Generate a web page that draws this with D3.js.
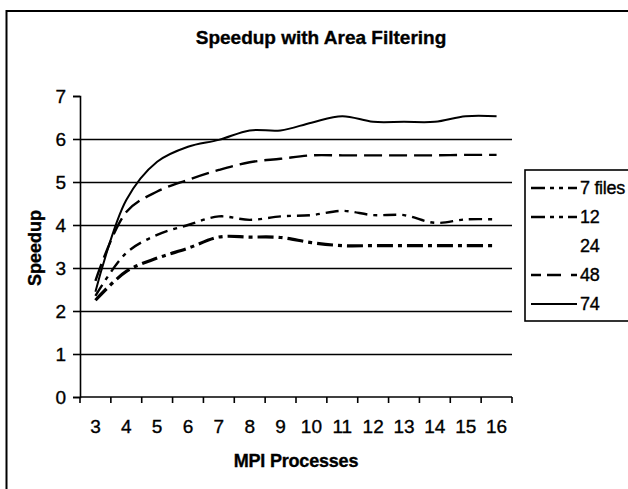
<!DOCTYPE html>
<html>
<head>
<meta charset="utf-8" />
<script src="https://cdn.jsdelivr.net/npm/d3@7"></script>
<title>speedup</title>
<style>
body { margin: 0; background: #fff; }
text { font-family: "Liberation Sans", Arial, sans-serif; fill: #000; stroke: #000; stroke-width: 0.35px; }
</style>
</head>
<body>
<script>
// MPI process counts on the x axis
var procs = [3, 4, 5, 6, 7, 8, 9, 10, 11, 12, 13, 14, 15, 16];
var yTicks = [0, 1, 2, 3, 4, 5, 6, 7];
var legendNames = ["7 files", "12", "24", "48", "74"];

// speedup per series
var files7  = [2.25, 2.92, 3.23, 3.46, 3.72, 3.72, 3.71, 3.59, 3.52, 3.52, 3.52, 3.52, 3.52, 3.52];
var files12 = [2.35, 3.35, 3.77, 4.00, 4.20, 4.12, 4.20, 4.23, 4.33, 4.23, 4.23, 4.05, 4.13, 4.13];
var files48 = [2.70, 4.30, 4.78, 5.05, 5.28, 5.46, 5.54, 5.62, 5.62, 5.62, 5.62, 5.62, 5.63, 5.63];
var files74 = [2.45, 4.58, 5.47, 5.82, 5.98, 6.20, 6.20, 6.38, 6.53, 6.40, 6.40, 6.40, 6.53, 6.53];

var w = 628, h = 489;
var pLeft = 80, pRight = 512, pTop = 96, pBottom = 397;

var svg = d3.select("body").append("svg")
	.attr("width", w)
	.attr("height", h);

// outer chart border
svg.append("rect")
	.attr("x", 6.5).attr("y", 11)
	.attr("width", 700).attr("height", 600)
	.attr("fill", "none")
	.attr("stroke", "#000")
	.attr("stroke-width", 2);

var x = d3.scaleBand().domain(procs).range([pLeft, pRight]);
var y = d3.scaleLinear().domain([0, 7]).range([pBottom, pTop]);

// gridlines 1..6
svg.selectAll(".grid")
	.data(yTicks.filter(function(d) { return d > 0 && d < 7; }))
	.enter().append("line")
	.attr("x1", pLeft).attr("x2", pRight)
	.attr("y1", function(d) { return Math.round(y(d)) + 0.5; })
	.attr("y2", function(d) { return Math.round(y(d)) + 0.5; })
	.attr("stroke", "#000")
	.attr("stroke-width", 1.3);

var yAxis = svg.append("g")
	.attr("transform", "translate(" + pLeft + ",0)")
	.call(d3.axisLeft(y).tickValues(yTicks).tickSize(7).tickPadding(7).tickFormat(d3.format("d")));
yAxis.selectAll("text").style("font-size", "19px").style("font-family", null);
yAxis.select(".domain").attr("stroke-width", 1.6);
yAxis.selectAll(".tick line").attr("stroke-width", 1.6);

// x axis: ticks on band edges, labels in the middle of each band
var xAxis = svg.append("g")
	.attr("transform", "translate(0," + pBottom + ")");
xAxis.append("line")
	.attr("x1", pLeft).attr("x2", pRight)
	.attr("stroke", "#000").attr("stroke-width", 1.6);
var edges = procs.map(function(p) { return x(p); }).concat([pRight]);
xAxis.selectAll(".tk").data(edges).enter().append("line")
	.attr("x1", function(d) { return d; }).attr("x2", function(d) { return d; })
	.attr("y1", 0).attr("y2", 6)
	.attr("stroke", "#000").attr("stroke-width", 1.6);
xAxis.selectAll(".lbl").data(procs).enter().append("text")
	.attr("x", function(d) { return x(d) + x.bandwidth() / 2; })
	.attr("y", 36)
	.attr("text-anchor", "middle")
	.style("font-size", "19px")
	.text(function(d) { return d; });

var line = d3.line()
	.x(function(d, i) { return x(procs[i]) + x.bandwidth() / 2; })
	.y(function(d) { return y(d); })
	.curve(d3.curveCatmullRom.alpha(0.5));

var series = [
	{ name: "7 files", values: files7, dash: "16,5,4,5", width: 3.2 },
	{ name: "12", values: files12, dash: "13,6,4,6", width: 2.4 },
	{ name: "48", values: files48, dash: "18,7", width: 2.4 },
	{ name: "74", values: files74, dash: null, width: 2 }
];

svg.selectAll(".series").data(series).enter().append("path")
	.attr("d", function(s) { return line(s.values); })
	.attr("fill", "none")
	.attr("stroke", "#000")
	.attr("stroke-width", function(s) { return s.width; })
	.attr("stroke-dasharray", function(s) { return s.dash; });

// titles
svg.append("text")
	.attr("x", 321).attr("y", 44)
	.attr("text-anchor", "middle")
	.style("font-size", "19px").style("font-weight", "bold")
	.text("Speedup with Area Filtering");

svg.append("text")
	.attr("x", 296).attr("y", 467)
	.attr("text-anchor", "middle")
	.style("font-size", "18px").style("font-weight", "bold")
	.style("letter-spacing", "-0.2px")
	.text("MPI Processes");

svg.append("text")
	.attr("transform", "translate(41,248) rotate(-90)")
	.attr("text-anchor", "middle")
	.style("font-size", "18px").style("font-weight", "bold")
	.text("Speedup");

// legend
var lg = svg.append("g");
lg.append("rect")
	.attr("x", 525).attr("y", 170)
	.attr("width", 200).attr("height", 151)
	.attr("fill", "#fff")
	.attr("stroke", "#000")
	.attr("stroke-width", 1.6);

var items = lg.selectAll(".item").data(legendNames).enter().append("g")
	.attr("transform", function(d, i) { return "translate(0," + (188 + i * 29) + ")"; });

function styleOf(name) {
	return series.filter(function(s) { return s.name == name; })[0];
}

// 7 files and 12 show as long-short-short in the key
var keyDash = { "7 files": "14,5,4,5,4,5", "12": "14,5,4,5,4,5", "48": "10,6,14", "74": null };

items.append("line")
	.attr("x1", 531).attr("x2", 577)
	.attr("stroke", "#000")
	.attr("stroke-width", function(d) { return styleOf(d) ? Math.min(styleOf(d).width, 2.4) : 0; })
	.attr("stroke-dasharray", function(d) { return keyDash[d]; });

items.append("text")
	.attr("x", 580).attr("dy", "0.35em")
	.style("font-size", "18px")
	.style("letter-spacing", "-0.3px")
	.text(function(d) { return d; });
</script>
</body>
</html>
